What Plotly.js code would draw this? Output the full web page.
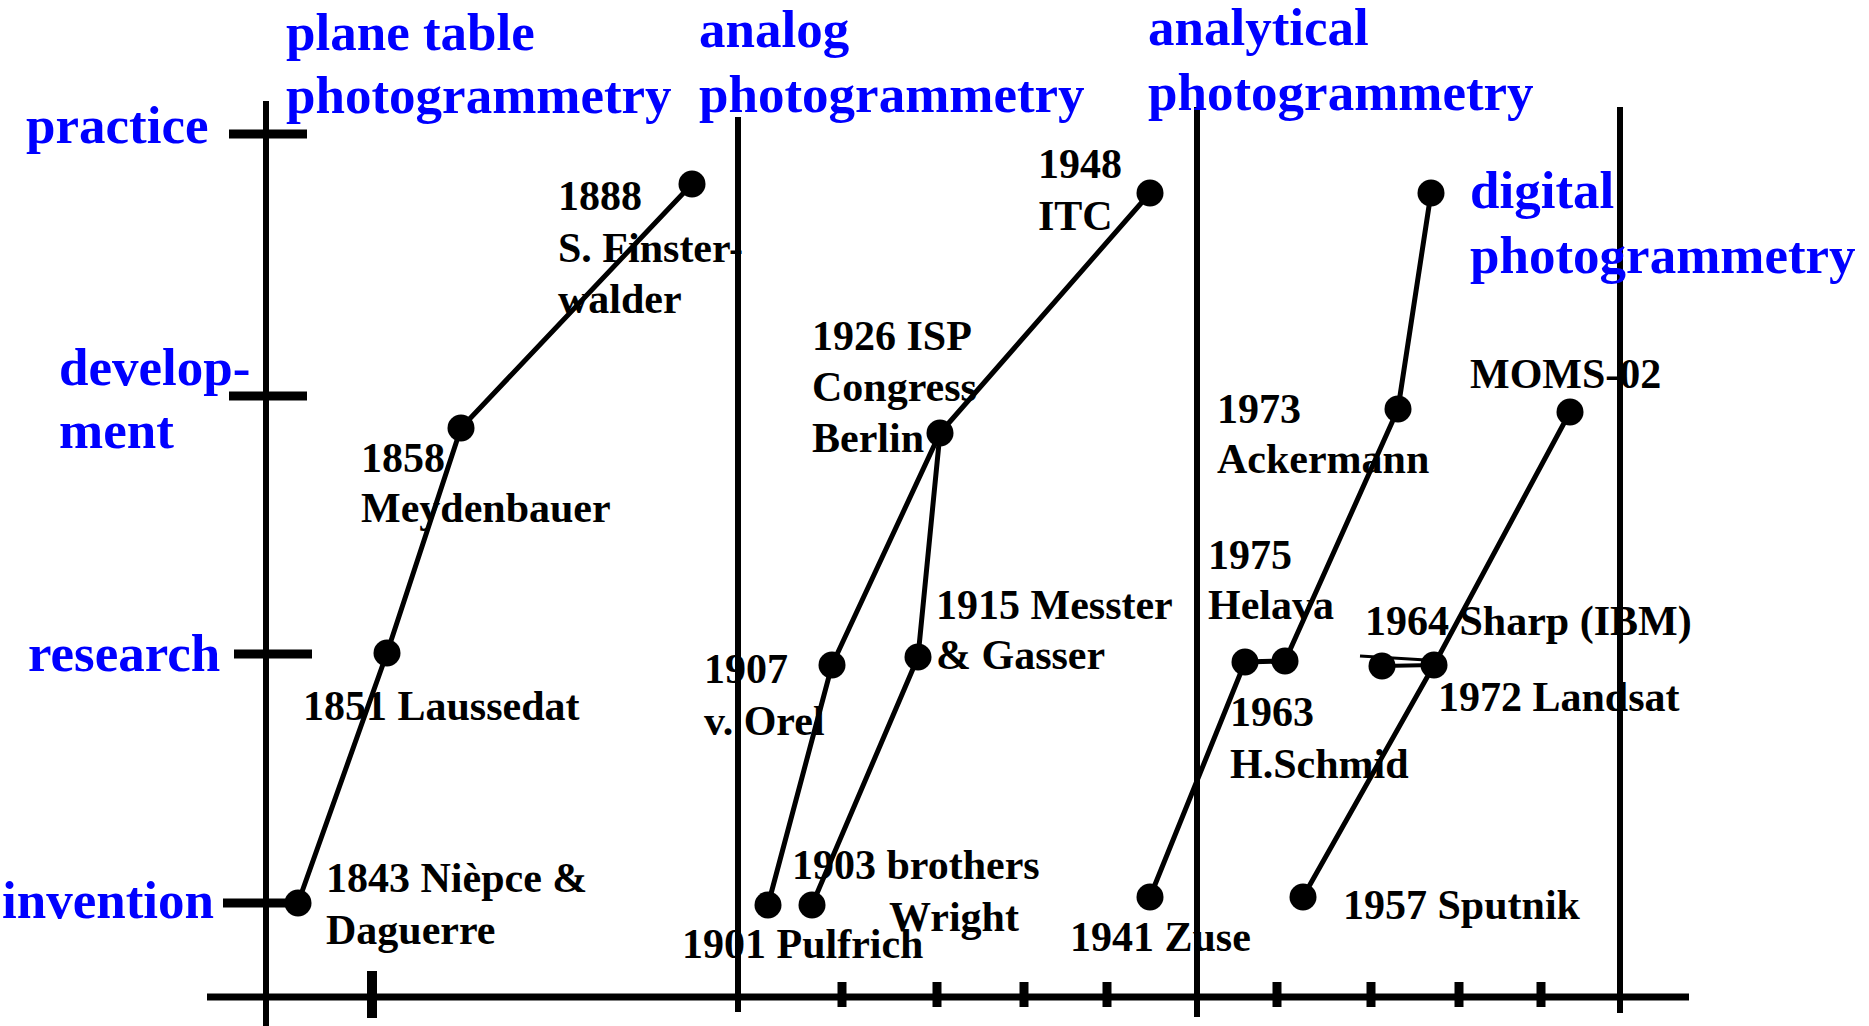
<!DOCTYPE html>
<html>
<head>
<meta charset="utf-8">
<script src="https://cdn.plot.ly/plotly-3.0.1.min.js"></script>
<style>html,body{margin:0;padding:0;background:#fff;overflow:hidden}</style>
</head>
<body>
<div id="chart" style="width:1869px;height:1026px"></div>
<script>
// ---------------- DATA ----------------
// Events: horizontal position on the timeline strip, vertical position on the stage scale
const eventNames = ['1843 Nièpce & Daguerre','1851 Laussedat','1858 Meydenbauer','1888 S. Finsterwalder',
  '1901 Pulfrich','1903 brothers Wright','1907 v. Orel','1915 Messter & Gasser','1926 ISP Congress Berlin','1948 ITC',
  '1941 Zuse','1963 H.Schmid','1975 Helava','1973 Ackermann','digital photogrammetry',
  '1957 Sputnik','1964 Sharp (IBM)','1972 Landsat','MOMS-02'];
const eventPos   = [298, 387, 461, 692, 768, 812, 832, 918, 940, 1150, 1150, 1245, 1285, 1398, 1431, 1303, 1382, 1434, 1570];
const eventStage = [903, 653, 428, 184, 905, 905, 665, 657, 433, 193, 897, 662, 661, 409, 193, 897, 666, 665, 412];

// Lines of development (indices into the event arrays)
const chains = [
  [0, 1, 2, 3],
  [4, 6, 8, 9],
  [5, 7, 8],
  [10, 11, 12, 13, 14],
  [15, 17, 18]
];
const sideLinks = [[16, 17]];
const sharpStubPos = [1360, 1426];
const sharpStubStage = [656, 660];

// Event label texts (one array of lines per event, null = no label)
const eventLabelLines = [
  ['1843 Nièpce &', 'Daguerre'],
  ['1851 Laussedat'],
  ['1858', 'Meydenbauer'],
  ['1888', 'S. Finster-', 'walder'],
  ['1901 Pulfrich'],
  ['1903 brothers', 'Wright'],
  ['1907', 'v. Orel'],
  ['1915 Messter', '& Gasser'],
  ['1926 ISP', 'Congress', 'Berlin'],
  ['1948', 'ITC'],
  ['1941 Zuse'],
  ['1963', 'H.Schmid'],
  ['1975', 'Helava'],
  ['1973', 'Ackermann'],
  null,
  ['1957 Sputnik'],
  ['1964 Sharp (IBM)'],
  ['1972 Landsat'],
  ['MOMS-02']
];

// Stages (vertical categories)
const stageLabels = [['invention'], ['research'], ['develop-', 'ment'], ['practice']];
const stageLevel = [903, 654, 396, 134];

// Eras (horizontal sections)
const eraLabels = [['plane table', 'photogrammetry'], ['analog', 'photogrammetry'],
                   ['analytical', 'photogrammetry'], ['digital', 'photogrammetry']];
const eraBoundaryPos = [266, 738, 1197, 1620];

// Time axis ticks
const timeTicksMajor = [372];
const timeTicksMinor = [842, 937, 1024, 1107, 1277, 1371, 1459, 1541];

// ---------------- LAYOUT / STYLE ----------------
const W = 1869, H = 1026;
const FONT_FAMILY = '"Liberation Serif", "Times New Roman", Times, serif';
const DESC = 0.216;
const blackFont = {family: FONT_FAMILY, size: 42, color: '#000000', weight: 'bold'};
const blueFont  = {family: FONT_FAMILY, size: 53, color: '#0000ff', weight: 'bold'};

// label placement: x = left edge, b = first baseline, gap = line gap, indent = per line shift
const eventLabelPlace = [
  {x: 326, b: 892, gap: 52},
  {x: 303, b: 720},
  {x: 361, b: 472, gap: 50},
  {x: 558, b: 210, gap: 51.5},
  {x: 682, b: 958},
  {x: 792, b: 879, gap: 52, indent: [0, 97]},
  {x: 704, b: 683, gap: 52},
  {x: 936, b: 619, gap: 50},
  {x: 812, b: 350, gap: 51},
  {x: 1038, b: 178, gap: 52},
  {x: 1070, b: 951},
  {x: 1230, b: 726, gap: 52},
  {x: 1208, b: 569, gap: 50},
  {x: 1217, b: 423, gap: 50},
  null,
  {x: 1343, b: 919},
  {x: 1365, b: 636},
  {x: 1438, b: 711},
  {x: 1470, b: 388}
];
const stageLabelPlace = [
  {x: 2, b: 918},
  {x: 28, b: 671},
  {x: 59, b: 385, gap: 63},
  {x: 26, b: 143}
];
const eraLabelPlace = [
  {x: 286, b: 50, gap: 63},
  {x: 699, b: 47, gap: 65},
  {x: 1148, b: 45, gap: 65},
  {x: 1470, b: 208, gap: 65}
];
const stageTickFrom = [223, 234, 229, 229];
const stageTickTo   = [296, 312, 307, 307];
const eraBoundaryTop    = [101, 117, 107, 107];
const eraBoundaryBottom = [1026, 1012, 1017, 1013];
const axisLevel = 997, axisFrom = 207, axisTo = 1689;

// ---------------- BUILD ----------------
const traces = [];
chains.forEach(c => {
  traces.push({type: 'scatter', mode: 'lines', x: c.map(i => eventPos[i]), y: c.map(i => eventStage[i]),
    line: {color: '#000', width: 5}, hoverinfo: 'skip'});
});
sideLinks.forEach(c => {
  traces.push({type: 'scatter', mode: 'lines', x: c.map(i => eventPos[i]), y: c.map(i => eventStage[i]),
    line: {color: '#000', width: 4}, hoverinfo: 'skip'});
});
traces.push({type: 'scatter', mode: 'lines', x: sharpStubPos, y: sharpStubStage,
  line: {color: '#000', width: 3}, hoverinfo: 'skip'});
traces.push({type: 'scatter', mode: 'markers', x: eventPos, y: eventStage, text: eventNames,
  marker: {color: '#000', size: 27, line: {width: 0}}, hoverinfo: 'text'});

const shapes = [];
const seg = (x0, y0, x1, y1, w) => shapes.push({type: 'line', xref: 'x', yref: 'y', x0, y0, x1, y1,
  line: {color: '#000', width: w}, layer: 'below'});
eraBoundaryPos.forEach((p, i) => seg(p, eraBoundaryTop[i], p, eraBoundaryBottom[i], 6));
stageLevel.forEach((l, i) => seg(stageTickFrom[i], l, stageTickTo[i], l, 9));
seg(axisFrom, axisLevel, axisTo, axisLevel, 7);
timeTicksMajor.forEach(p => seg(p, 971, p, 1018, 10));
timeTicksMinor.forEach(p => seg(p, 982, p, 1007, 9));

const annotations = [];
function addLabel(lines, place, font) {
  if (!lines || !place) return;
  lines.forEach((t, i) => {
    const base = place.b + i * (place.gap || 0);
    const dx = (place.indent && place.indent[i]) || 0;
    annotations.push({xref: 'x', yref: 'y', x: place.x + dx, y: base + DESC * font.size,
      xanchor: 'left', yanchor: 'bottom', text: t, showarrow: false, font: font,
      borderpad: 0, borderwidth: 0, align: 'left'});
  });
}
eventLabelLines.forEach((l, i) => addLabel(l, eventLabelPlace[i], blackFont));
stageLabels.forEach((l, i) => addLabel(l, stageLabelPlace[i], blueFont));
eraLabels.forEach((l, i) => addLabel(l, eraLabelPlace[i], blueFont));

const layout = {
  width: W, height: H, autosize: false,
  margin: {l: 0, r: 0, t: 0, b: 0, pad: 0},
  paper_bgcolor: '#fff', plot_bgcolor: '#fff',
  showlegend: false,
  xaxis: {range: [0, W], visible: false, fixedrange: true},
  yaxis: {range: [H, 0], visible: false, fixedrange: true},
  shapes: shapes,
  annotations: annotations
};
Plotly.newPlot('chart', traces, layout, {displayModeBar: false, staticPlot: true});
</script>
</body>
</html>
